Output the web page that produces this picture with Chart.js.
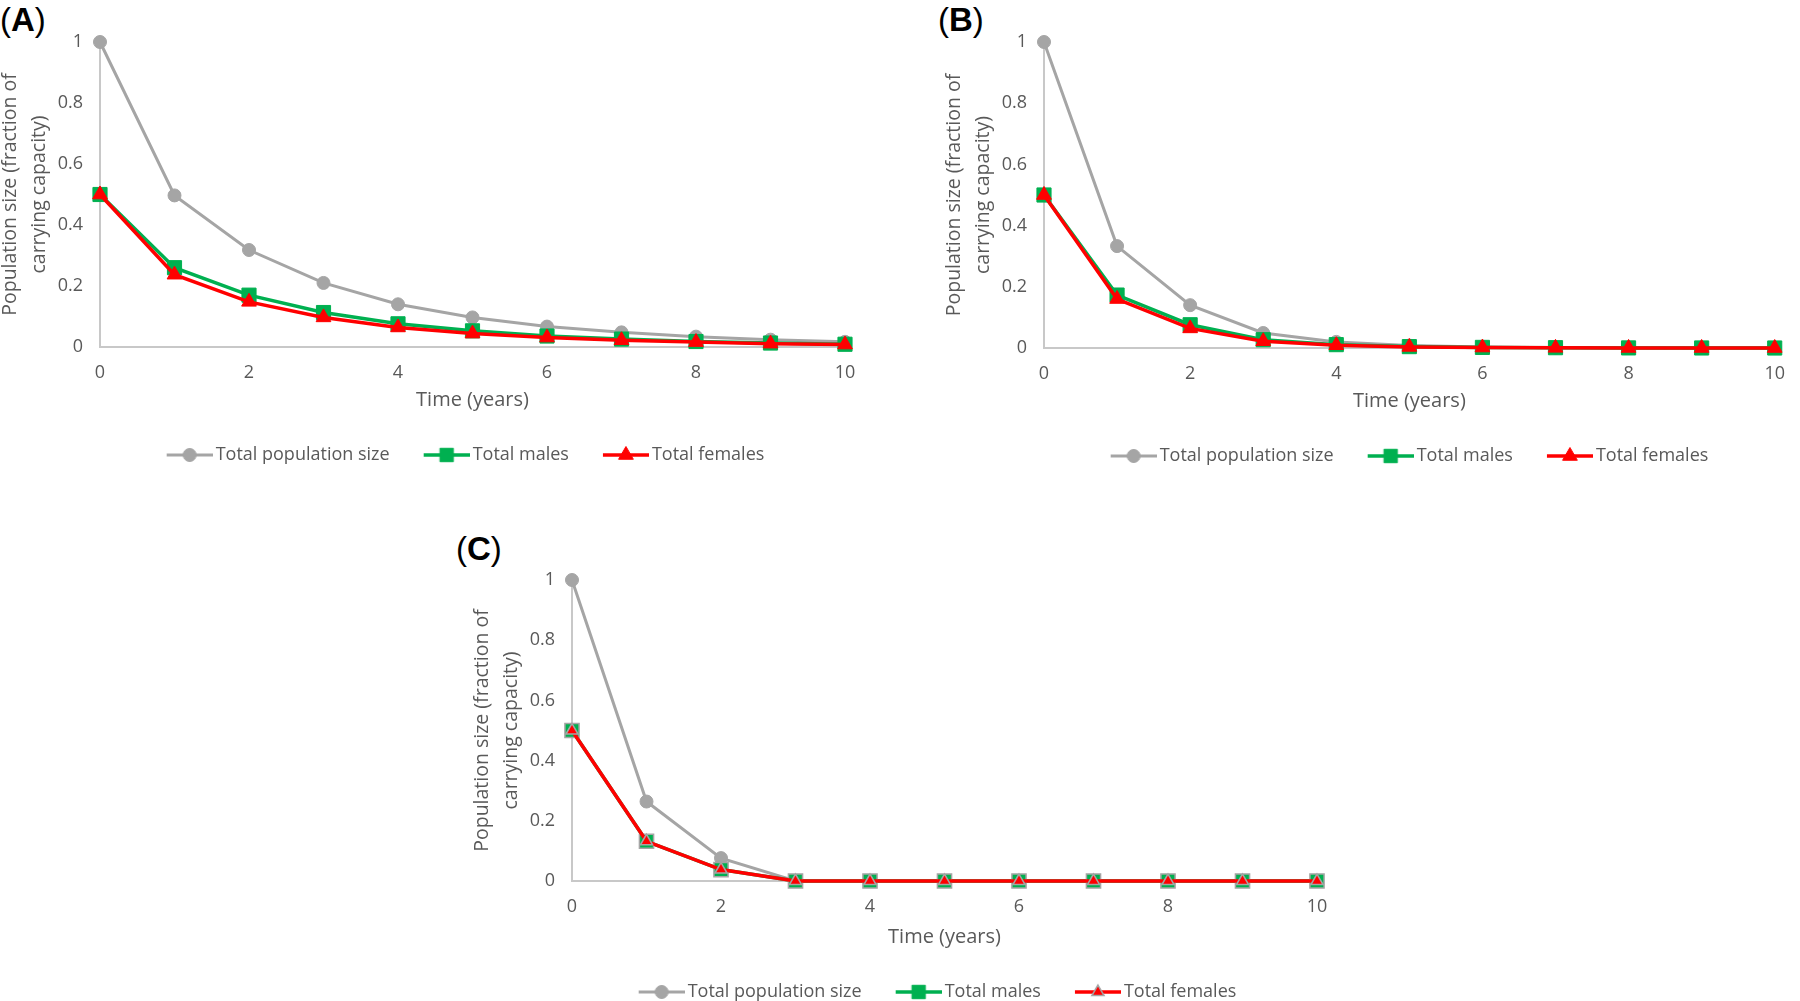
<!DOCTYPE html>
<html>
<head>
<meta charset="utf-8">
<script src="https://cdn.jsdelivr.net/npm/chart.js@4.4.1/dist/chart.umd.min.js"></script>
<style>
  body { margin: 0; width: 1800px; height: 1001px; overflow: hidden; background: #fff; position: relative; }
  canvas { position: absolute; }
  .panel { position: absolute; font-family: "Liberation Sans", Arial, sans-serif; font-size: 33px; line-height: 33px; color: #000; }
</style>
</head>
<body>
<div class="panel" style="left:0px;top:3px">(<b>A</b>)</div>
<div class="panel" style="left:938px;top:3px">(<b>B</b>)</div>
<div class="panel" style="left:456px;top:532px">(<b>C</b>)</div>
<canvas id="chartA" width="884" height="480" style="left:-4px;top:0px"></canvas>
<canvas id="chartB" width="860" height="481" style="left:940px;top:0px"></canvas>
<canvas id="chartC" width="884" height="473" style="left:468px;top:538px"></canvas>
<script>
// data (fraction of carrying capacity)
const years = [0, 1, 2, 3, 4, 5, 6, 7, 8, 9, 10];
const xTicks = [0, 2, 4, 6, 8, 10];
const yTicks = [0, 0.2, 0.4, 0.6, 0.8, 1];
const seriesNames = ["Total population size", "Total males", "Total females"];

const totalA   = [1, 0.497, 0.318, 0.21, 0.14, 0.097, 0.067, 0.048, 0.034, 0.024, 0.017];
const malesA   = [0.5, 0.26, 0.17, 0.113, 0.076, 0.053, 0.036, 0.026, 0.018, 0.013, 0.009];
const femalesA = [0.5, 0.237, 0.148, 0.097, 0.064, 0.044, 0.031, 0.022, 0.016, 0.011, 0.008];

const totalB   = [1, 0.333, 0.14, 0.049, 0.02, 0.008, 0.003, 0.001, 0.0005, 0.0002, 0.0001];
const malesB   = [0.5, 0.173, 0.076, 0.027, 0.011, 0.0045, 0.002, 0.001, 0.0003, 0.0001, 0];
const femalesB = [0.5, 0.16, 0.064, 0.022, 0.009, 0.0035, 0.0015, 0.0005, 0.0002, 0.0001, 0];

const totalC   = [1, 0.264, 0.076, 0, 0, 0, 0, 0, 0, 0, 0];
const malesC   = [0.5, 0.132, 0.038, 0, 0, 0, 0, 0, 0, 0, 0];
const femalesC = [0.5, 0.132, 0.038, 0, 0, 0, 0, 0, 0, 0, 0];

const GRAY = "#a5a5a5", GREEN = "#00b050", RED = "#ff0000", TEXT = "#595959";
const FONT = "'Open Sans', 'Noto Sans', sans-serif";

function pts(vals) {
  return years.map((x, i) => ({x: x, y: vals[i]}));
}

// line + marker picture used as legend symbol
function legendIcon(color, style, radius, border, bw, lw) {
  const c = document.createElement("canvas");
  c.width = 52; c.height = 22;
  const ctx = c.getContext("2d");
  ctx.strokeStyle = color;
  ctx.lineWidth = lw;
  ctx.beginPath(); ctx.moveTo(6, 11); ctx.lineTo(52, 11); ctx.stroke();
  ctx.fillStyle = color;
  ctx.strokeStyle = border;
  ctx.lineWidth = bw;
  Chart.helpers.drawPoint(ctx, {pointStyle: style, radius: radius, rotation: 0, borderWidth: bw}, 29, 11);
  return c;
}

const shiftLegend = {
  id: "shiftLegend",
  afterLayout(chart, args, opts) {
    chart.legend.left += opts.dx;
    chart.legend.right += opts.dx;
  }
};

function makePanel(id, total, males, females, pad, xh, outlined) {
  const mBorder = outlined ? GRAY : GREEN;
  const fBorder = outlined ? GRAY : RED;
  const bw = outlined ? 1.5 : 1;
  const icons = [
    legendIcon(GRAY, "circle", 6.5, GRAY, 1, 3),
    legendIcon(GREEN, "rect", 9.5, GREEN, 1, 3.5),
    legendIcon(RED, "triangle", outlined ? 7 : 8.5, fBorder, bw, 3.5)
  ];
  new Chart(document.getElementById(id), {
    type: "line",
    data: {
      datasets: [{
        label: seriesNames[0],
        data: pts(total),
        borderColor: GRAY, backgroundColor: GRAY,
        pointStyle: "circle", pointRadius: 6.5,
        pointBackgroundColor: GRAY, pointBorderColor: GRAY, pointBorderWidth: 1,
        borderWidth: 3, order: 2, clip: false
      }, {
        label: seriesNames[1],
        data: pts(males),
        borderColor: GREEN, backgroundColor: GREEN,
        pointStyle: "rect", pointRadius: 10,
        pointBackgroundColor: GREEN, pointBorderColor: mBorder, pointBorderWidth: bw,
        borderWidth: 3.5, order: 1, clip: false
      }, {
        label: seriesNames[2],
        data: pts(females),
        borderColor: RED, backgroundColor: RED,
        pointStyle: "triangle", pointRadius: outlined ? 7 : 8.5,
        pointBackgroundColor: RED, pointBorderColor: fBorder, pointBorderWidth: bw,
        borderWidth: 3.5, order: 0, clip: false
      }]
    },
    options: {
      responsive: false,
      animation: false,
      events: [],
      layout: {padding: {left: 0, top: 42, right: pad.right, bottom: pad.bottom}},
      elements: {line: {tension: 0}},
      scales: {
        x: {
          type: "linear", min: 0, max: 10,
          afterBuildTicks: axis => { axis.ticks = xTicks.map(v => ({value: v})); },
          afterFit: axis => { axis.height = xh; },
          grid: {display: false, drawTicks: false},
          border: {display: true, color: "#c8c8c8", width: 2},
          ticks: {color: TEXT, font: {family: FONT, size: 18}, padding: 15, maxRotation: 0},
          title: {display: true, text: "Time (years)", color: TEXT, font: {family: FONT, size: 20}, padding: {top: 2, bottom: 0}}
        },
        y: {
          min: 0, max: 1,
          afterBuildTicks: axis => { axis.ticks = yTicks.map(v => ({value: v})); },
          afterFit: axis => { axis.width = 104; },
          grid: {display: false, drawTicks: false},
          border: {display: true, color: "#c8c8c8", width: 2},
          ticks: {color: TEXT, font: {family: FONT, size: 18}, padding: 17,
            callback: v => String(+v.toFixed(1))},
          title: {display: true, text: ["Population size (fraction of", "carrying capacity)"],
            color: TEXT, font: {family: FONT, size: 19.5, lineHeight: 1.5}, padding: 0}
        }
      },
      plugins: {
        tooltip: {enabled: false},
        shiftLegend: {dx: 45},
        legend: {
          position: "bottom",
          labels: {
            usePointStyle: true, pointStyleWidth: 40, boxHeight: 18, padding: 34,
            color: TEXT, font: {family: FONT, size: 18},
            sort: (a, b) => a.datasetIndex - b.datasetIndex,
            generateLabels: chart => {
              const items = Chart.defaults.plugins.legend.labels.generateLabels(chart);
              items.forEach(it => { it.pointStyle = icons[it.datasetIndex]; });
              return items;
            }
          }
        }
      }
    },
    plugins: [shiftLegend]
  });
}

makePanel("chartA", totalA, malesA, femalesA, {right: 35, bottom: 6}, 65, false);
makePanel("chartB", totalB, malesB, femalesB, {right: 11, bottom: 6}, 65, false);
makePanel("chartC", totalC, malesC, femalesC, {right: 35, bottom: 0}, 68, true);
</script>
</body>
</html>
